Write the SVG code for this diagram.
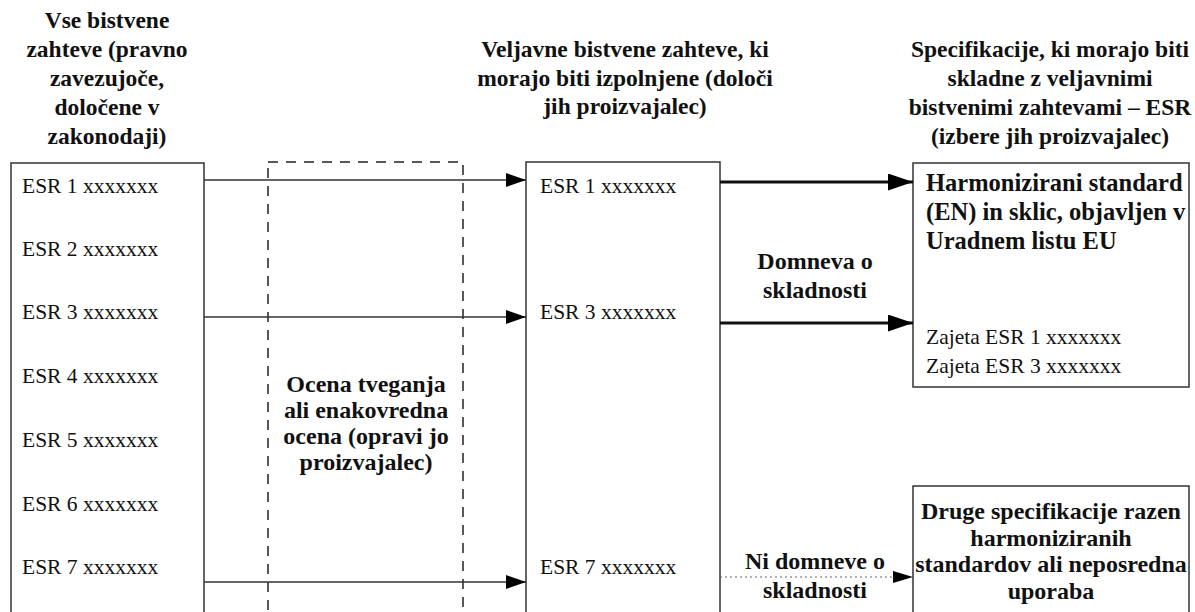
<svg xmlns="http://www.w3.org/2000/svg" width="1195" height="612" viewBox="0 0 1195 612">
<style>
.h{font-family:"Liberation Serif",serif;font-weight:bold;font-size:23.5px;fill:#111;text-anchor:middle}
.c{font-family:"Liberation Serif",serif;font-weight:bold;font-size:24px;fill:#111;text-anchor:middle}
.t{font-family:"Liberation Serif",serif;font-size:21.5px;fill:#111}
.b{font-family:"Liberation Serif",serif;font-weight:bold;font-size:24.5px;fill:#111}
.box{fill:none;stroke:#333;stroke-width:1.5}
.dash{fill:none;stroke:#222;stroke-width:1.5;stroke-dasharray:10 8}
.thin{stroke:#333;stroke-width:1.3;fill:none}
.thick{stroke:#111;stroke-width:3;fill:none}
.dot{stroke:#666;stroke-width:1.2;stroke-dasharray:2 3;fill:none}
</style>
<defs>
<marker id="ah" markerWidth="20" markerHeight="14" refX="20" refY="7" orient="auto" markerUnits="userSpaceOnUse">
<path d="M0,0 L20,7 L0,14 z" fill="#000"/>
</marker>
<marker id="ahb" markerWidth="25" markerHeight="17" refX="25" refY="8.5" orient="auto" markerUnits="userSpaceOnUse">
<path d="M0,0 L25,8.5 L0,17 z" fill="#000"/>
</marker>
</defs>

<g id="header-left">
<text class="h" x="107" y="28">Vse bistvene</text>
<text class="h" x="107" y="57">zahteve (pravno</text>
<text class="h" x="107" y="86">zavezujoče,</text>
<text class="h" x="107" y="115">določene v</text>
<text class="h" x="107" y="144">zakonodaji)</text>
</g>
<g id="header-mid">
<text class="h" x="625" y="57">Veljavne bistvene zahteve, ki</text>
<text class="h" x="625" y="86">morajo biti izpolnjene (določi</text>
<text class="h" x="625" y="114">jih proizvajalec)</text>
</g>
<g id="header-right">
<text class="h" x="1050" y="57">Specifikacije, ki morajo biti</text>
<text class="h" x="1050" y="86">skladne z veljavnimi</text>
<text class="h" x="1050" y="115">bistvenimi zahtevami – ESR</text>
<text class="h" x="1050" y="144">(izbere jih proizvajalec)</text>
</g>

<g id="all-esr">
<rect class="box" x="11" y="163" width="193" height="470"/>
<text class="t" x="22" y="193">ESR 1 xxxxxxx</text>
<text class="t" x="22" y="256">ESR 2 xxxxxxx</text>
<text class="t" x="22" y="319">ESR 3 xxxxxxx</text>
<text class="t" x="22" y="383">ESR 4 xxxxxxx</text>
<text class="t" x="22" y="447">ESR 5 xxxxxxx</text>
<text class="t" x="22" y="511">ESR 6 xxxxxxx</text>
<text class="t" x="22" y="574">ESR 7 xxxxxxx</text>
</g>

<g id="risk-assessment">
<rect class="dash" x="268" y="162" width="195" height="470"/>
<text class="c" x="366" y="392">Ocena tveganja</text>
<text class="c" x="366" y="418">ali enakovredna</text>
<text class="c" x="366" y="444">ocena (opravi jo</text>
<text class="c" x="366" y="470">proizvajalec)</text>
</g>

<g id="applicable-esr">
<rect class="box" x="526" y="162" width="194" height="470"/>
<text class="t" x="540" y="193">ESR 1 xxxxxxx</text>
<text class="t" x="540" y="319">ESR 3 xxxxxxx</text>
<text class="t" x="540" y="574">ESR 7 xxxxxxx</text>
</g>

<g id="harmonized">
<rect class="box" x="913" y="163" width="276" height="224"/>
<text class="b" x="926" y="191">Harmonizirani standard</text>
<text class="b" x="926" y="220">(EN) in sklic, objavljen v</text>
<text class="b" x="926" y="249">Uradnem listu EU</text>
<text class="t" x="926" y="344">Zajeta ESR 1 xxxxxxx</text>
<text class="t" x="926" y="373">Zajeta ESR 3 xxxxxxx</text>
</g>

<g id="other-specs">
<rect class="box" x="913" y="486" width="276" height="150"/>
<text class="c" x="1051" y="519">Druge specifikacije razen</text>
<text class="c" x="1051" y="546">harmoniziranih</text>
<text class="c" x="1051" y="572">standardov ali neposredna</text>
<text class="c" x="1051" y="599">uporaba</text>
</g>

<g id="labels">
<text class="c" x="815" y="269">Domneva o</text>
<text class="c" x="815" y="298">skladnosti</text>
<text class="c" x="815" y="569">Ni domneve o</text>
<text class="c" x="815" y="598">skladnosti</text>
</g>

<g id="connectors">
<line class="thin" x1="204" y1="180" x2="526" y2="180" marker-end="url(#ah)"/>
<line class="thin" x1="204" y1="317" x2="526" y2="317" marker-end="url(#ah)"/>
<line class="thin" x1="204" y1="582" x2="526" y2="582" marker-end="url(#ah)"/>
<line class="thick" x1="720" y1="182" x2="913" y2="182" marker-end="url(#ahb)"/>
<line class="thick" x1="720" y1="323" x2="913" y2="323" marker-end="url(#ahb)"/>
<line class="dot" x1="720" y1="577" x2="895" y2="577"/>
<path d="M893,571 L913,577 L893,583 z" fill="#000"/>
</g>
</svg>
